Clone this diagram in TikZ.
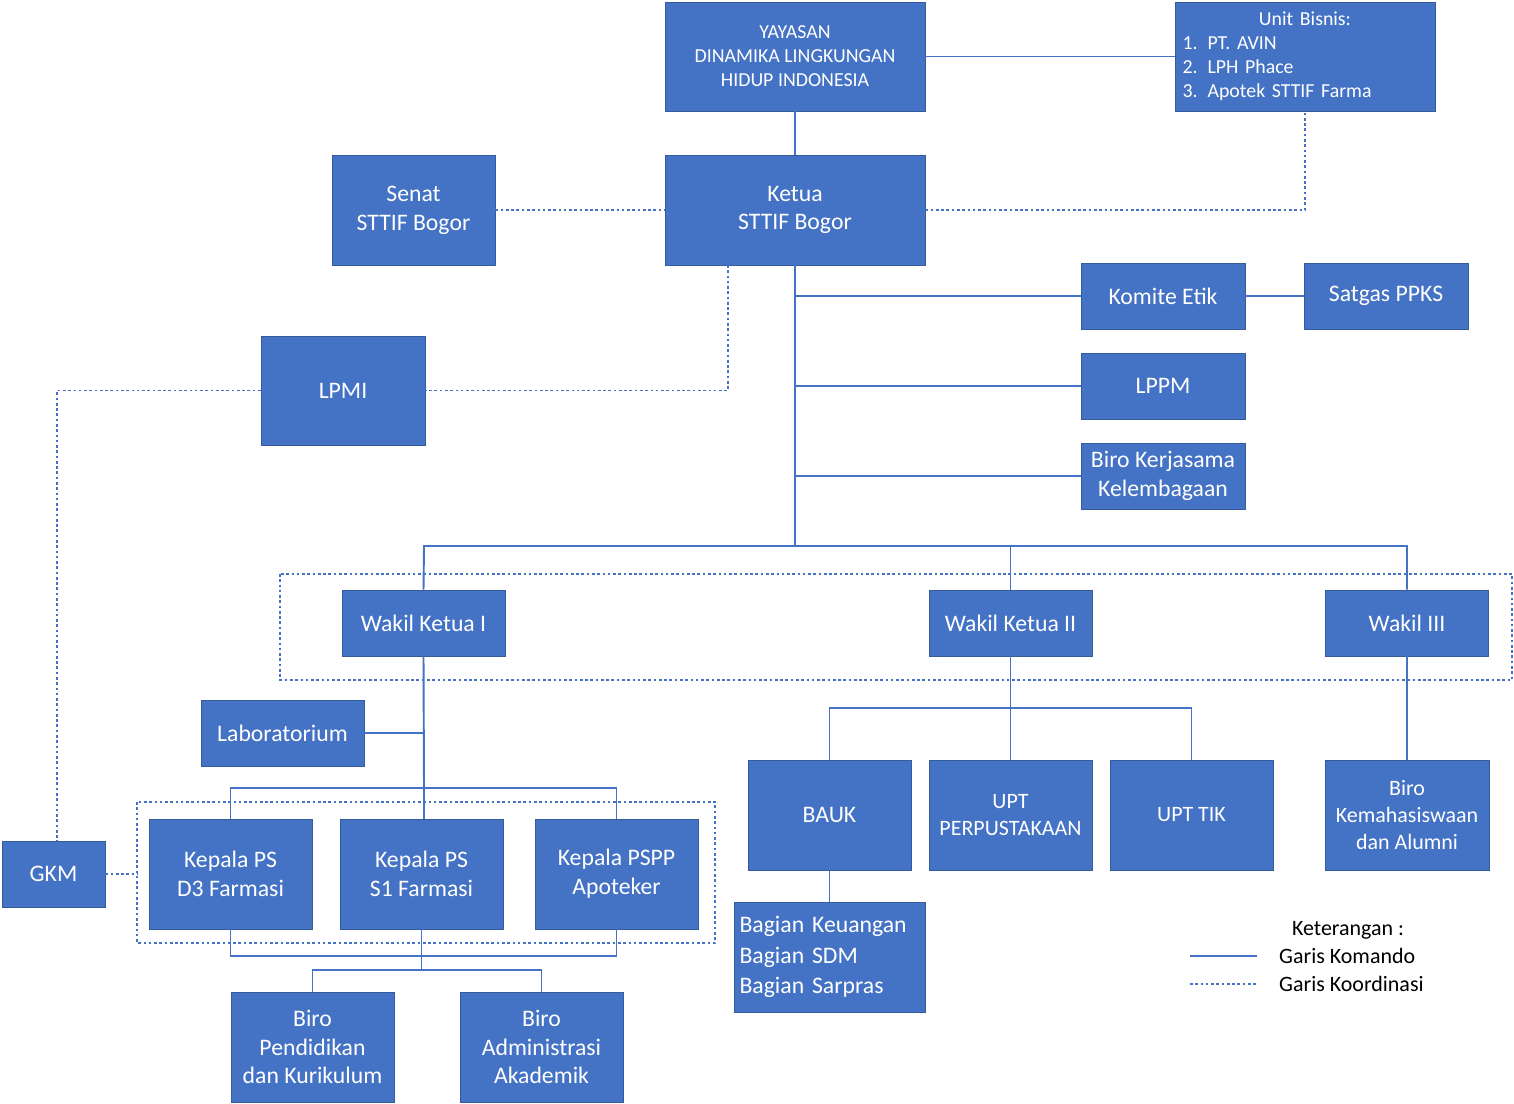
\documentclass[tikz,border=0pt]{standalone}
\usepackage{fontspec}
\setmainfont{Carlito}
\usetikzlibrary{positioning}
\definecolor{biru}{HTML}{4472C4}
\tikzset{
  kotak/.style={draw=biru!80!black, fill=biru, text=white, align=center, inner sep=2pt,
    font=\fontsize{13.5}{16.4}\selectfont},
  kotakkecil/.style={kotak, font=\fontsize{11.3}{13.6}\selectfont},
  komando/.style={draw=biru, line width=1.1pt},
  koordinasi/.style={draw=biru, line width=1.1pt, dash pattern=on 1.5pt off 1.5pt},
}
\begin{document}
\begin{tikzpicture}[x=0.02cm, y=-0.02cm]
  \useasboundingbox (0,0) rectangle (1514,1104);
  % kotak-kotak utama
  \node[kotakkecil, minimum width=5.2cm, minimum height=2.18cm] (yayasan) at (795,56.5) {YAYASAN\\DINAMIKA LINGKUNGAN\\HIDUP INDONESIA};
  \node[kotakkecil, minimum width=5.2cm, minimum height=2.18cm, align=left, text width=4.9cm] (unit) at (1305,56.5)
    {\centering Unit Bisnis:\par\raggedright 1. PT. AVIN\\2. LPH Phace\\3. Apotek STTIF Farma};
  \node[kotak, minimum width=3.26cm, minimum height=2.2cm] (senat) at (413.5,210) {Senat\\STTIF Bogor};
  \node[kotak, minimum width=5.2cm, minimum height=2.2cm] (ketua) at (795,210) {Ketua\\STTIF Bogor};
  \node[kotak, minimum width=3.28cm, minimum height=1.32cm] (komite) at (1163,296) {Komite Etik};
  \node[kotak, minimum width=3.28cm, minimum height=1.32cm] (satgas) at (1386,296) {Satgas PPKS};
  \node[kotak, minimum width=3.28cm, minimum height=1.32cm] (lppm) at (1163,386) {LPPM};
  \node[kotak, minimum width=3.28cm, minimum height=1.32cm] (kerjasama) at (1163,476) {Biro Kerjasama\\Kelembagaan};
  \node[kotak, minimum width=3.28cm, minimum height=2.18cm] (lpmi) at (343,390.5) {LPMI};
  % wakil
  \node[kotak, minimum width=3.26cm, minimum height=1.32cm] (wk1) at (423.5,623) {Wakil Ketua I};
  \node[kotak, minimum width=3.26cm, minimum height=1.32cm] (wk2) at (1010.5,623) {Wakil Ketua II};
  \node[kotak, minimum width=3.26cm, minimum height=1.32cm] (wk3) at (1407,623) {Wakil III};
  \draw[koordinasi] (280,574) rectangle (1512,680);
  % bawah
  \node[kotak, minimum width=3.26cm, minimum height=1.32cm] (lab) at (282.5,733) {Laboratorium};
  \node[kotak, minimum width=3.26cm, minimum height=2.2cm] (bauk) at (829.5,815) {BAUK};
  \node[kotakkecil, font=\fontsize{12.5}{15.5}\selectfont, minimum width=3.26cm, minimum height=2.2cm] (perpus) at (1010.5,815) {UPT\\PERPUSTAKAAN};
  \node[kotakkecil, font=\fontsize{12.5}{15.5}\selectfont, minimum width=3.26cm, minimum height=2.2cm] (tik) at (1191.5,815) {UPT TIK};
  \node[kotak, font=\fontsize{12.5}{15.5}\selectfont, minimum width=3.28cm, minimum height=2.2cm] (kemahasiswaan) at (1407,815) {Biro\\Kemahasiswaan\\dan Alumni};
  \node[kotak, minimum width=3.82cm, minimum height=2.2cm, align=left, text width=3.6cm, font=\fontsize{13.5}{17.3}\selectfont] (bagian) at (829.5,957)
    {Bagian Keuangan\\Bagian SDM\\Bagian Sarpras};
  \node[kotak, minimum width=2.06cm, minimum height=1.32cm] (gkm) at (53.5,874) {GKM};
  \node[kotak, minimum width=3.26cm, minimum height=2.2cm] (d3) at (230.5,874) {Kepala PS\\D3 Farmasi};
  \node[kotak, minimum width=3.26cm, minimum height=2.2cm] (s1) at (421.5,874) {Kepala PS\\S1 Farmasi};
  \node[kotak, minimum width=3.26cm, minimum height=2.2cm] (pspp) at (616.5,874) {Kepala PSPP\\Apoteker};
  \draw[koordinasi] (137,802) rectangle (715,943);
  \node[kotak, minimum width=3.26cm, minimum height=2.2cm] (pendidikan) at (312.5,1047) {Biro\\Pendidikan\\dan Kurikulum};
  \node[kotak, minimum width=3.26cm, minimum height=2.2cm] (akademik) at (541.5,1047) {Biro\\Administrasi\\Akademik};

  % garis komando
  \draw[komando] (yayasan) -- (unit);
  \draw[komando] (yayasan) -- (ketua);
  \draw[komando] (ketua.south) -- (795,546);
  \draw[komando] (795,296) -- (komite.west);
  \draw[komando] (komite) -- (satgas);
  \draw[komando] (795,386) -- (lppm.west);
  \draw[komando] (795,476) -- (kerjasama.west);
  \draw[komando] (wk1.north) -- (424,546) -- (1407,546) -- (wk3.north);
  \draw[komando] (1010.5,546) -- (wk2.north);
  \draw[komando] (wk1.south) -- (424,788);
  \draw[komando] (lab.east) -- (424,733);
  \draw[komando] (d3.north) -- (230.5,788) -- (616.5,788) -- (pspp.north);
  \draw[komando] (424,788) -- (s1.north -| 424,0);
  \draw[komando] (d3.south) -- (230.5,956) -- (616.5,956) -- (pspp.south);
  \draw[komando] (s1.south) -- (421.5,970);
  \draw[komando] (pendidikan.north) -- (312.5,970) -- (541.5,970) -- (akademik.north);
  \draw[komando] (wk2.south) -- (perpus.north);
  \draw[komando] (bauk.north) -- (829.5,708) -- (1191.5,708) -- (tik.north);
  \draw[komando] (wk3.south) -- (kemahasiswaan.north);
  \draw[komando] (bauk) -- (bagian);

  % garis koordinasi
  \draw[koordinasi] (senat) -- (ketua);
  \draw[koordinasi] (ketua.east) -- (1305,210) -- (unit.south);
  \draw[koordinasi] (728,265) -- (728,390.5) -- (lpmi.east);
  \draw[koordinasi] (lpmi.west) -- (57,390.5) -- (gkm.north -| 57,0);
  \draw[koordinasi] (gkm.east) -- (137,874);

  % keterangan
  \node[font=\fontsize{12.5}{15}\selectfont] (ket) at (1348,930) {Keterangan :};
  \coordinate (k1a) at (1190,956);
  \coordinate (k1b) at (1257,956);
  \coordinate (k2a) at (1190,984);
  \coordinate (k2b) at (1257,984);
  \draw[komando] (k1a) -- (k1b);
  \draw[koordinasi] (k2a) -- (k2b);
  \node[anchor=west, font=\fontsize{12.5}{15}\selectfont] (ket1) at (1273,956) {Garis Komando};
  \node[anchor=west, font=\fontsize{12.5}{15}\selectfont] (ket2) at (1273,984) {Garis Koordinasi};
\end{tikzpicture}
\end{document}
